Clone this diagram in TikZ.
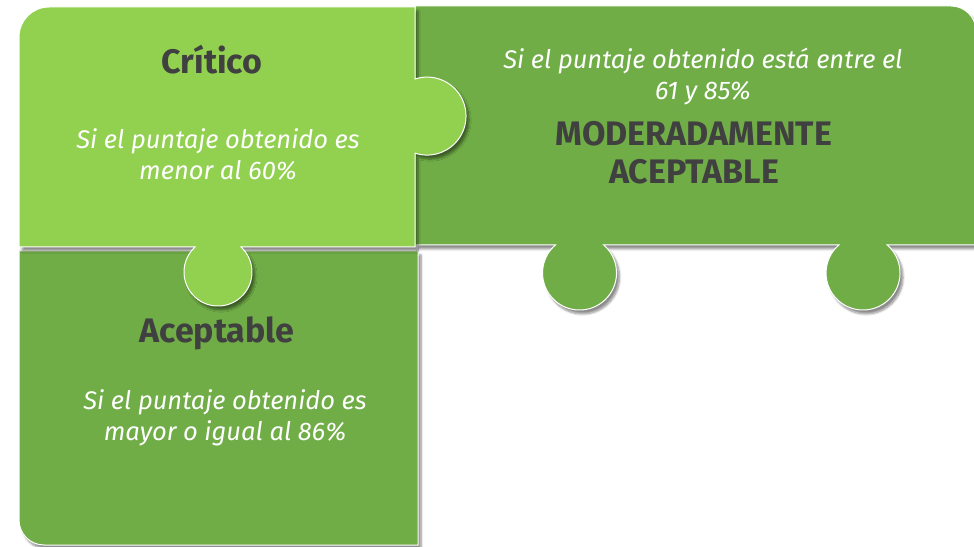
\documentclass[tikz,border=0pt]{standalone}
\usepackage{fontspec}
\setmainfont{Fira Sans}
\usepackage{xcolor}
\usetikzlibrary{shadows.blur}
\definecolor{lightpiece}{RGB}{146,208,80}
\definecolor{darkpiece}{RGB}{112,173,71}
\definecolor{titletext}{RGB}{64,64,64}
\tikzstyle{piece}=[draw=white, line width=1pt, blur shadow={shadow xshift=3pt, shadow yshift=-4pt, shadow blur steps=8, shadow opacity=45}]
\tikzstyle{title}=[text=titletext, font=\fontsize{34}{38}\selectfont\bfseries, align=center, inner sep=0pt]
\tikzstyle{rule}=[text=white, font=\fontsize{25.5}{31}\selectfont\itshape, align=center, inner sep=0pt]

\begin{document}
\begin{tikzpicture}[x=1pt,y=1pt]
  \useasboundingbox (0,0) rectangle (974,546);

  %% Puzzle pieces
  \draw[piece, fill=darkpiece] (19,295) -- (19,26) arc (180:270:25) -- (418,1) -- (418,295) -- cycle;

  \draw[piece, fill=darkpiece] (415,540) -- (951,540) arc (90:0:25) -- (976,301)
    -- (887.2,301) arc (49.2:-229.2:37) -- (603.7,301) arc (49.2:-229.2:37) -- (415,301) -- cycle;

  \draw[piece, fill=lightpiece] (19,299) -- (19,509) arc (180:90:30) -- (415,539)
    -- (415,467) arc (108:-108:39) -- (415,299) -- (241,299) arc (47.4:-227.4:34) -- cycle;

  %% Labels
  \draw (212,472) node[title, anchor=base] (crit) {Crítico};
  \draw (218,392) node[rule] (critrule) {Si el puntaje obtenido es\\menor al 60\%};

  \draw (703,469) node[rule] (moderrule) {Si el puntaje obtenido está entre el\\61 y 85\%};
  \draw (694,393) node[title] (moder) {MODERADAMENTE\\ACEPTABLE};

  \draw (217,203) node[title, anchor=base] (acep) {Aceptable};
  \draw (225,128) node[rule] (aceprule) {Si el puntaje obtenido es\\mayor o igual al 86\%};
\end{tikzpicture}
\end{document}
